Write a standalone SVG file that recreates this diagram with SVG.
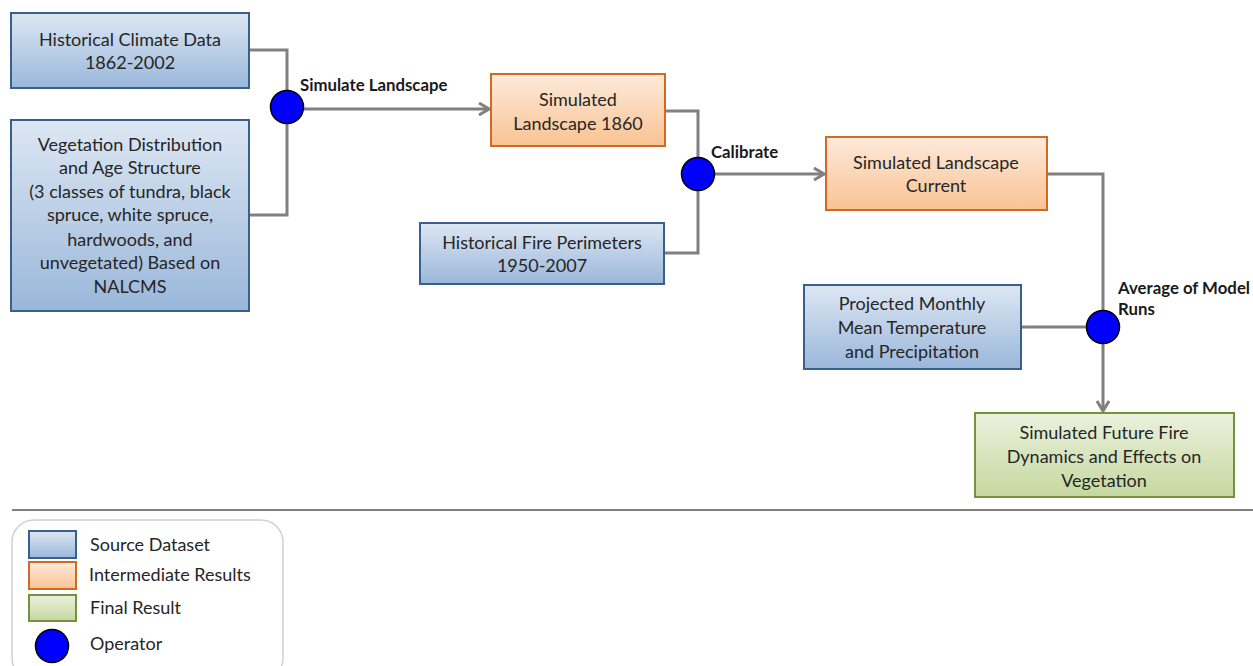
<svg xmlns="http://www.w3.org/2000/svg" width="1253" height="666" viewBox="0 0 1253 666">
<defs>
<linearGradient id="gBlue" x1="0" y1="0" x2="0" y2="1"><stop offset="0" stop-color="#dde7f3"/><stop offset="1" stop-color="#9ab7da"/></linearGradient>
<linearGradient id="gOrange" x1="0" y1="0" x2="0" y2="1"><stop offset="0" stop-color="#fdeadb"/><stop offset="1" stop-color="#f9c393"/></linearGradient>
<linearGradient id="gGreen" x1="0" y1="0" x2="0" y2="1"><stop offset="0" stop-color="#ebf1de"/><stop offset="1" stop-color="#c5d89f"/></linearGradient>
<marker id="arr" viewBox="0 0 12 14" refX="11" refY="7" markerWidth="12" markerHeight="14" markerUnits="userSpaceOnUse" orient="auto">
<path d="M1,1 L11,7 L1,13" fill="none" stroke="#808080" stroke-width="3"/>
</marker>
<style>
.blue{fill:url(#gBlue);stroke:#3a5f8b;stroke-width:2}
.orange{fill:url(#gOrange);stroke:#d26a26;stroke-width:2}
.green{fill:url(#gGreen);stroke:#76923c;stroke-width:2}
.op{fill:#0000ff;stroke:#000;stroke-width:1.5}
.t{font-family:Lato,"Open Sans","Liberation Sans",sans-serif;font-size:18px;fill:#262626;text-anchor:middle}
.lbl{font-family:Lato,"Open Sans","Liberation Sans",sans-serif;font-size:16.8px;font-weight:bold;fill:#1a1a1a}
.lg{font-family:Lato,"Open Sans","Liberation Sans",sans-serif;font-size:18px;fill:#262626}
.c{fill:none;stroke:#808080;stroke-width:3}
</style>
</defs>
<rect width="1253" height="666" fill="#fff"/>

<g id="connectors">
<polyline class="c" points="249,50 287,50 287,215 249,215"/>
<line class="c" x1="287" y1="109" x2="489" y2="109" marker-end="url(#arr)"/>
<polyline class="c" points="665,111 698,111 698,253 665,253"/>
<line class="c" x1="698" y1="174" x2="824" y2="174" marker-end="url(#arr)"/>
<polyline class="c" points="1047,174 1103,174 1103,327"/>
<line class="c" x1="1021" y1="327" x2="1103" y2="327"/>
<line class="c" x1="1103" y1="327" x2="1103" y2="411" marker-end="url(#arr)"/>
</g>

<g id="node-climate">
<rect class="blue" x="11" y="13" width="238" height="75"/>
<text class="t" x="130" y="46">Historical Climate Data</text>
<text class="t" x="130" y="69">1862-2002</text>
</g>

<g id="node-vegetation">
<rect class="blue" x="11" y="120" width="238" height="191"/>
<text class="t" x="130" y="151">Vegetation Distribution</text>
<text class="t" x="130" y="174">and Age Structure</text>
<text class="t" x="130" y="198">(3 classes of tundra, black</text>
<text class="t" x="130" y="221">spruce, white spruce,</text>
<text class="t" x="130" y="246">hardwoods, and</text>
<text class="t" x="130" y="269">unvegetated) Based on</text>
<text class="t" x="130" y="293">NALCMS</text>
</g>

<g id="op-simulate">
<circle class="op" cx="287" cy="107" r="16.5"/>
<text class="lbl" x="300" y="91">Simulate Landscape</text>
</g>

<g id="node-sim1860">
<rect class="orange" x="491" y="74" width="174" height="72"/>
<text class="t" x="578" y="106">Simulated</text>
<text class="t" x="578" y="130">Landscape 1860</text>
</g>

<g id="node-fire">
<rect class="blue" x="420" y="223" width="244" height="61"/>
<text class="t" x="542" y="249">Historical Fire Perimeters</text>
<text class="t" x="542" y="272">1950-2007</text>
</g>

<g id="op-calibrate">
<circle class="op" cx="698" cy="174" r="16.5"/>
<text class="lbl" x="711" y="158">Calibrate</text>
</g>

<g id="node-current">
<rect class="orange" x="826" y="137" width="221" height="73"/>
<text class="t" x="936" y="169">Simulated Landscape</text>
<text class="t" x="936" y="192">Current</text>
</g>

<g id="node-projected">
<rect class="blue" x="804" y="285" width="217" height="84"/>
<text class="t" x="912" y="310">Projected Monthly</text>
<text class="t" x="912" y="334">Mean Temperature</text>
<text class="t" x="912" y="358">and Precipitation</text>
</g>

<g id="op-average">
<circle class="op" cx="1103" cy="327" r="16.5"/>
<text class="lbl" x="1118" y="294">Average of Model</text>
<text class="lbl" x="1118" y="315">Runs</text>
</g>

<g id="node-future">
<rect class="green" x="975" y="413" width="259" height="84"/>
<text class="t" x="1104" y="439">Simulated Future Fire</text>
<text class="t" x="1104" y="463">Dynamics and Effects on</text>
<text class="t" x="1104" y="487">Vegetation</text>
</g>

<line x1="12" y1="510" x2="1253" y2="510" stroke="#555" stroke-width="1.5"/>

<g id="legend">
<rect x="12" y="520" width="271" height="160" rx="22" fill="#fff" stroke="#d0d0d0" stroke-width="1.5"/>
<rect class="blue" x="29" y="531" width="47" height="27"/>
<text class="lg" x="90" y="551">Source Dataset</text>
<rect class="orange" x="29" y="562" width="47" height="27"/>
<text class="lg" x="89" y="581">Intermediate Results</text>
<rect class="green" x="29" y="595" width="47" height="26"/>
<text class="lg" x="90" y="614">Final Result</text>
<circle class="op" cx="52" cy="646" r="16.5"/>
<text class="lg" x="90" y="650">Operator</text>
</g>
</svg>
